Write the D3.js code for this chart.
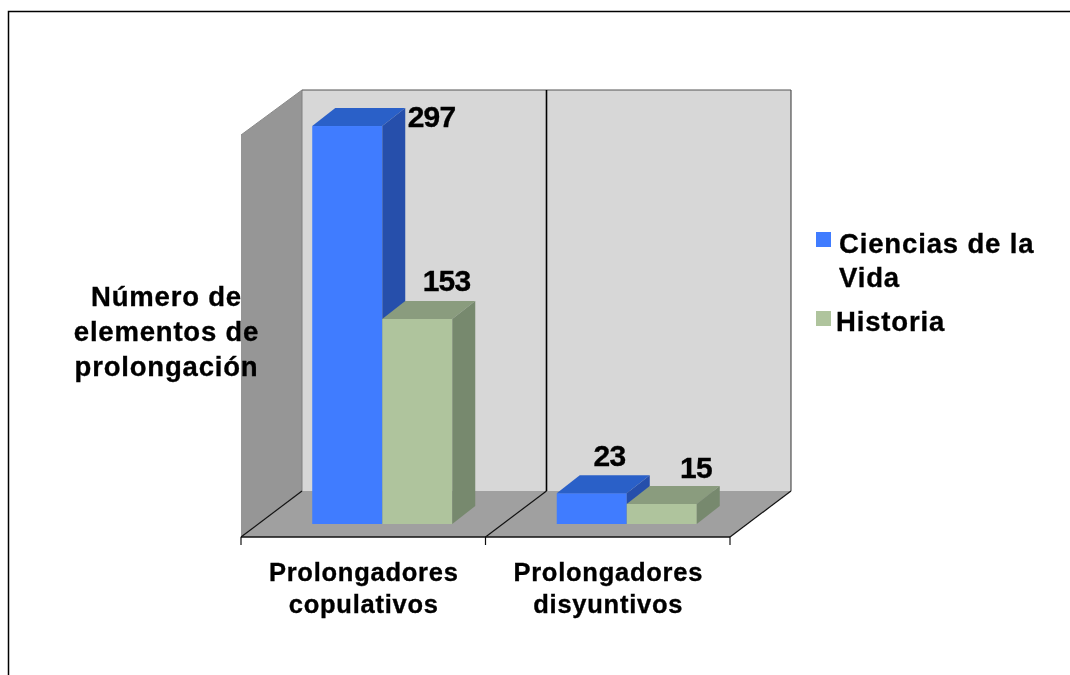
<!DOCTYPE html>
<html><head><meta charset="utf-8">
<script src="https://cdn.jsdelivr.net/npm/d3@7/dist/d3.min.js"></script>
<style>html,body{margin:0;padding:0;background:#fff}svg{display:block}text{font-family:"Liberation Sans",Arial,sans-serif;font-weight:700;fill:#000;stroke:#000;stroke-width:.35px}</style>
</head><body><svg id="c" width="1070" height="675"></svg>
<script>
const categories = [["Prolongadores","copulativos"],["Prolongadores","disyuntivos"]];
const seriesNames = ["Ciencias de la Vida","Historia"];
const cienciasValues = [297,23];
const historiaValues = [153,15];
const yTitleLines = ["Número de","elementos de","prolongación"];
const yMax = 300;

const svg = d3.select("#c");
const blur = svg.append("defs").append("filter").attr("id","soft");
blur.append("feGaussianBlur").attr("stdDeviation",0.5);
const root = svg.append("g");
const W={x0:241,x1:730,y0:537,y1:135,dx:61,dy:-46,topDy:-45};
const barDepth={dx:23,dy:-18}, barOff={dx:19,dy:-13};

const x = d3.scaleBand().domain(d3.range(categories.length)).range([W.x0,W.x1]);
const xs = d3.scaleBand().domain(d3.range(seriesNames.length)).range([0,140]);
const y = d3.scaleLinear().domain([0,yMax]).range([W.y0,W.y1]);
const pts = a=>a.map(p=>p.join(",")).join(" ");
const palette=[{f:"#3f7cff",t:"#2c60c8",s:"#2750ab"},{f:"#afc49d",t:"#8a9c7e",s:"#77896e"}];
const backTop=W.y1+W.topDy, backBot=W.y0+W.dy;

// frame
root.append("path").attr("d","M8.5 675V11.5H1070").attr("fill","none").attr("stroke","#000").attr("stroke-width",1.5);

// walls
root.append("polygon").attr("points",pts([[W.x0+W.dx,backTop],[W.x1+W.dx,backTop],[W.x1+W.dx,backBot],[W.x0+W.dx,backBot]])).attr("fill","#d7d7d7");
root.append("polygon").attr("points",pts([[W.x0,W.y1],[W.x0+W.dx,backTop],[W.x0+W.dx,backBot],[W.x0,W.y0]])).attr("fill","#969696");
root.append("polygon").attr("points",pts([[W.x0,W.y0],[W.x0+W.dx,backBot],[W.x1+W.dx,backBot],[W.x1,W.y0]])).attr("fill","#a0a0a0");
// wall edges
root.append("line").attr("x1",W.x0).attr("y1",W.y1).attr("x2",W.x0+W.dx).attr("y2",backTop).attr("stroke","#8a8a8a");
root.append("line").attr("x1",W.x0+W.dx).attr("x2",W.x0+W.dx).attr("y1",backTop).attr("y2",backBot).attr("stroke","#808080");
root.append("line").attr("x1",W.x1+W.dx).attr("x2",W.x1+W.dx).attr("y1",backTop).attr("y2",backBot).attr("stroke","#333");
root.append("line").attr("x1",W.x0+W.dx).attr("x2",W.x1+W.dx).attr("y1",backTop).attr("y2",backTop).attr("stroke","#555");
// dividers & floor lines
const bounds=[0,1,2].map(i=>i<2?x(i):W.x1);
bounds.forEach((b,i)=>{
  root.append("line").attr("x1",b).attr("y1",W.y0).attr("x2",b+W.dx).attr("y2",backBot).attr("stroke","#111").attr("stroke-width",1.2);
  if(i==1) root.append("line").attr("x1",b+W.dx).attr("y1",backBot).attr("x2",b+W.dx).attr("y2",backTop).attr("stroke","#000").attr("stroke-width",1.6);
  root.append("line").attr("x1",b).attr("y1",W.y0).attr("x2",b).attr("y2",W.y0+8).attr("stroke","#111").attr("stroke-width",1.2);
});
root.append("line").attr("x1",W.x0).attr("x2",W.x1).attr("y1",W.y0).attr("y2",W.y0).attr("stroke","#111").attr("stroke-width",1.6);

// bars
const valueSets=[cienciasValues,historiaValues];
const labelAnchor=[[[431.5,116],[446.5,280]],[[609.5,455],[696,467]]];
const drawOrder=[[0,0],[0,1],[1,0],[1,1]];
drawOrder.forEach(([c,s])=>{
  const v=valueSets[s][c], col=palette[s], bw=xs.bandwidth();
  const left=x(c)+(x.bandwidth()-140)/2+xs(s)+barOff.dx, right=left+bw;
  const base=y(0)+barOff.dy, top=y(v)+barOff.dy;
  const g=root.append("g");
  g.append("rect").attr("x",left).attr("y",top).attr("width",bw).attr("height",base-top).attr("fill",col.f);
  g.append("polygon").attr("points",pts([[left,top],[left+barDepth.dx,top+barDepth.dy],[right+barDepth.dx,top+barDepth.dy],[right,top]])).attr("fill",col.t);
  g.append("polygon").attr("points",pts([[right,top],[right+barDepth.dx,top+barDepth.dy],[right+barDepth.dx,base+barDepth.dy],[right,base]])).attr("fill",col.s);
});
// value labels
drawOrder.forEach(([c,s])=>{
  const [lx,ly]=labelAnchor[c][s];
  root.append("text").attr("x",lx).attr("y",ly+11).attr("text-anchor","middle").attr("font-size",30).attr("letter-spacing",-0.8).text(valueSets[s][c]);
});

// category labels
categories.forEach((lines,i)=>{
  lines.forEach((t,j)=>root.append("text").attr("x",x(i)+x.bandwidth()/2+0.5).attr("y",581+j*32).attr("text-anchor","middle").attr("font-size",25.5).attr("letter-spacing",0.75).text(t));
});

// y title
yTitleLines.forEach((t,j)=>root.append("text").attr("x",166.5).attr("y",306+j*35).attr("text-anchor","middle").attr("font-size",27.5).attr("letter-spacing",0.8).text(t));

// legend
root.append("rect").attr("x",816).attr("y",232).attr("width",15).attr("height",15).attr("fill",palette[0].f);
root.append("text").attr("x",839).attr("y",253).attr("font-size",27.5).attr("letter-spacing",0.85).text("Ciencias de la");
root.append("text").attr("x",839).attr("y",287).attr("font-size",27.5).attr("letter-spacing",0.85).text("Vida");
root.append("rect").attr("x",816).attr("y",311).attr("width",15).attr("height",15).attr("fill",palette[1].f);
root.append("text").attr("x",836).attr("y",331).attr("font-size",27.5).attr("letter-spacing",0.85).text("Historia");
root.attr("filter","url(#soft)");
</script></body></html>
